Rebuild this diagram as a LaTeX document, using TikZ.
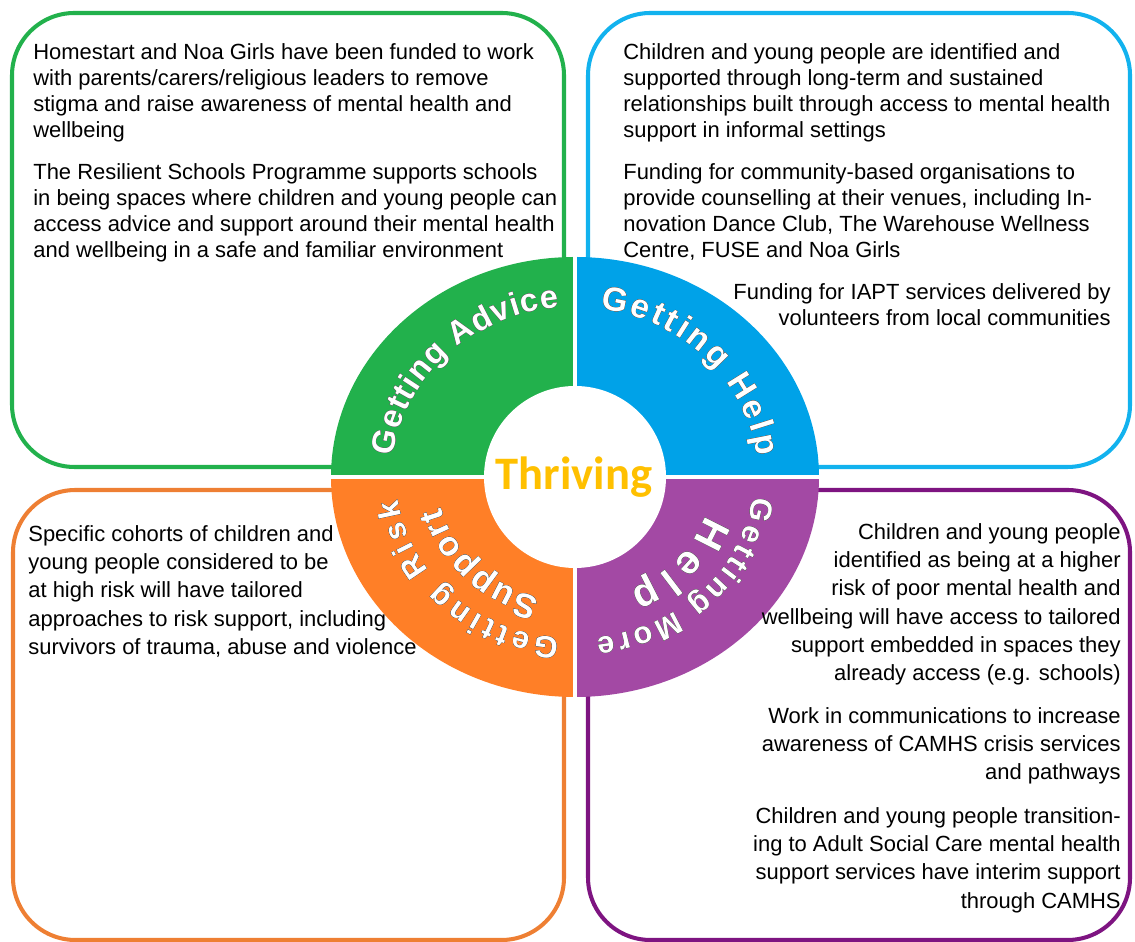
\documentclass[tikz,border=0pt]{standalone}
\usepackage{fontspec}
\setmainfont{Liberation Sans}
\newfontfamily\thrivefamily{Carlito}
\usetikzlibrary{decorations.text}

\definecolor{advline}{HTML}{22B14C}
\definecolor{helpline}{HTML}{12B2EE}
\definecolor{riskline}{HTML}{EE7F33}
\definecolor{moreline}{HTML}{7E1481}
\definecolor{advfill}{HTML}{22B14C}
\definecolor{helpfill}{HTML}{00A2E8}
\definecolor{riskfill}{HTML}{FF7F27}
\definecolor{morefill}{HTML}{A349A4}
\definecolor{thrive}{HTML}{FFC000}
\definecolor{rim}{HTML}{505050}

\newcommand{\ringfont}[1]{\fontsize{#1}{#1}\selectfont\bfseries}
\newcommand{\arclabel}[6]{%
  \foreach \dx/\dy in {-1.5/0,1.5/0,0/-1.5,0/1.5,-1.1/-1.1,1.1/-1.1,-1.1/1.1,1.1/1.1}{%
    \path[shift={(\dx,\dy)}, decorate, decoration={text along path, text align={fit to path}, text color=rim, text={|\ringfont{#1}|#2}}]
      ([shift={(#3:#5 and #6)}]ring) arc[start angle=#3, end angle=#4, x radius=#5, y radius=#6];}
  \path[decorate, decoration={text along path, text align={fit to path}, text color=white, text={|\ringfont{#1}|#2}}]
    ([shift={(#3:#5 and #6)}]ring) arc[start angle=#3, end angle=#4, x radius=#5, y radius=#6];}

\begin{document}
\begin{tikzpicture}[x=0.02cm, y=0.02cm,
  box/.style={line width=2.3pt, rounded corners=1.25cm},
  body/.style={inner sep=0pt, align=left, anchor=north west, font=\fontsize{12.5}{14.9}\selectfont},
  bodyr/.style={inner sep=0pt, align=right, anchor=north east, font=\fontsize{12.5}{16.1}\selectfont},
  gap/.style={line width=2pt, white}]
\useasboundingbox (0,0) rectangle (1135,942);
\coordinate (ring) at (575,465);

\draw[box, advline] (12,475) rectangle (564,929);
\draw[box, helpline] (588,475) rectangle (1130,929);
\draw[box, riskline] (13,2) rectangle (564,452);
\draw[box, moreline] (588,2) rectangle (1130,452);

\fill[advfill] (ring) -- ([shift={(180:244 and 220)}]ring) arc[start angle=180, end angle=90, x radius=244, y radius=220] -- cycle;
\fill[helpfill] (ring) -- ([shift={(90:244 and 220)}]ring) arc[start angle=90, end angle=0, x radius=244, y radius=220] -- cycle;
\fill[morefill] (ring) -- ([shift={(0:244 and 220)}]ring) arc[start angle=360, end angle=270, x radius=244, y radius=220] -- cycle;
\fill[riskfill] (ring) -- ([shift={(270:244 and 220)}]ring) arc[start angle=270, end angle=180, x radius=244, y radius=220] -- cycle;
\draw[gap] ([shift={(-250,0)}]ring) -- ([shift={(250,0)}]ring);
\draw[gap] ([shift={(0,-225)}]ring) -- ([shift={(0,225)}]ring);
\fill[white] (ring) circle[radius=91];

\arclabel{18.5}{Getting Advice}{173}{95}{183}{170}
\arclabel{19}{Getting Help}{82}{7}{183}{170}
\arclabel{17.5}{Getting More}{-7}{-83}{179}{162}
\arclabel{23}{Help}{-18}{-66}{137}{124}
\arclabel{17.5}{Getting Risk}{265}{188}{179}{162}
\arclabel{19.5}{Support}{255}{194}{138}{125}

\node[inner sep=0pt, anchor=base, text=thrive, font=\thrivefamily\bfseries\fontsize{26.5}{26.5}\selectfont] (thriving) at (574,452) {Thriving};

\node[body] (adv1) at (33,899) {Homestart and Noa Girls have been funded to work\\with parents/carers/religious leaders to remove\\stigma and raise awareness of mental health and\\wellbeing};
\node[body] (adv2) at (33,779) {The Resilient Schools Programme supports schools\\in being spaces where children and young people can\\access advice and support around their mental health\\and wellbeing in a safe and familiar environment};

\node[body] (help1) at (623,899) {Children and young people are identified and\\supported through long-term and sustained\\relationships built through access to mental health\\support in informal settings};
\node[body] (help2) at (623,779) {Funding for community-based organisations to\\provide counselling at their venues, including In-\\novation Dance Club, The Warehouse Wellness\\Centre, FUSE and Noa Girls};
\node[body, align=right, anchor=north east] (help3) at (1111,659) {Funding for IAPT services delivered by\\volunteers from local communities};

\node[body, font=\fontsize{12.5}{16.1}\selectfont] (risk1) at (28,417) {Specific cohorts of children and\\young people considered to be\\at high risk will have tailored\\approaches to risk support, including\\survivors of trauma, abuse and violence};

\node[bodyr] (more1) at (1121,419) {Children and young people\\identified as being at a higher\\risk of poor mental health and\\wellbeing will have access to tailored\\support embedded in spaces they\\already access (e.g. schools)};
\node[bodyr] (more2) at (1121,235) {Work in communications to increase\\awareness of CAMHS crisis services\\and pathways};
\node[bodyr] (more3) at (1121,135) {Children and young people transition-\\ing to Adult Social Care mental health\\support services have interim support\\through CAMHS};
\end{tikzpicture}
\end{document}
